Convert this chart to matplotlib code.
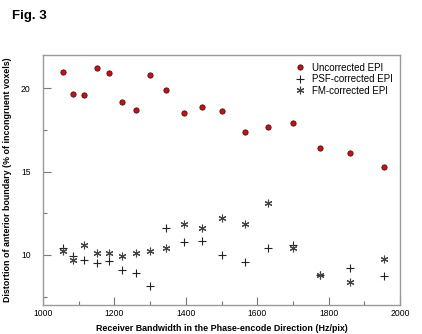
import matplotlib
matplotlib.use('Agg')
import matplotlib.pyplot as plt
from matplotlib.ticker import MultipleLocator

plt.rcParams['font.family'] = ['Liberation Sans', 'DejaVu Sans']

# Receiver bandwidth (Hz/pix)
bandwidth = [1055, 1085, 1115, 1150, 1185, 1220, 1260, 1300, 1345,
             1395, 1445, 1500, 1565, 1630, 1700, 1775, 1860, 1955]

# Distortion (% of incongruent voxels)
uncorrected = [21.0, 19.65, 19.6, 21.2, 20.95, 19.2, 18.7, 20.8, 19.88,
               18.52, 18.86, 18.62, 17.36, 17.7, 17.9, 16.44, 16.14, 15.3]
psf_corrected = [10.4, 9.94, 9.72, 9.5, 9.64, 9.1, 8.94, 8.12, 11.64,
                 10.76, 10.84, 9.98, 9.56, 10.4, 10.6, 8.78, 9.24, 8.74]
fm_corrected = [10.24, 9.7, 10.62, 10.1, 10.12, 9.94, 10.12, 10.26, 10.4,
                11.86, 11.62, 12.22, 11.86, 13.1, 10.44, 8.78, 8.38, 9.74]

fig = plt.figure(figsize=(4.22, 3.34), dpi=100)
ax = fig.add_axes([0.102, 0.087, 0.846, 0.748])

ax.plot(bandwidth, uncorrected, linestyle='none', marker='o', markersize=3.8,
        markerfacecolor='#ee0000', markeredgecolor='#222222', markeredgewidth=0.6,
        label='Uncorrected EPI')
ax.plot(bandwidth, psf_corrected, linestyle='none', marker='+', markersize=6,
        color='#222222', markeredgewidth=0.8, label='PSF-corrected EPI')
ax.plot(bandwidth, fm_corrected, linestyle='none', marker=(6, 2, 0), markersize=5.5,
        color='#444444', markeredgewidth=0.8, label='FM-corrected EPI')

ax.set_xlim(1000, 2000)
ax.set_ylim(7, 22)
ax.xaxis.set_major_locator(MultipleLocator(200))
ax.xaxis.set_minor_locator(MultipleLocator(100))
ax.yaxis.set_major_locator(MultipleLocator(5))
ax.yaxis.set_minor_locator(MultipleLocator(2.5))

ax.tick_params(which='both', direction='in', colors='#777777', labelcolor='black',
               labelsize=6.2, top=False, right=False)
ax.tick_params(which='major', length=5.5, width=0.8)
ax.tick_params(which='minor', length=3, width=0.8)
ax.tick_params(axis='y', pad=9)
ax.tick_params(axis='x', pad=3)

for s in ax.spines.values():
    s.set_color('#999999')
    s.set_linewidth(1.0)

ax.set_xlabel('Receiver Bandwidth in the Phase-encode Direction (Hz/pix)',
              fontsize=6.4, fontweight='bold', labelpad=4)
ax.set_ylabel('Distortion of anterior boundary (% of incongruent voxels)',
              fontsize=6.4, fontweight='bold', labelpad=6)

ax.legend(loc='upper right', frameon=False, fontsize=7, handletextpad=0.6,
          labelspacing=0.15, borderaxespad=0.4, handlelength=1.2)

fig.text(0.028, 0.952, 'Fig. 3', fontsize=9.5, fontweight='bold', va='center')

fig.savefig('out.png', dpi=100)
